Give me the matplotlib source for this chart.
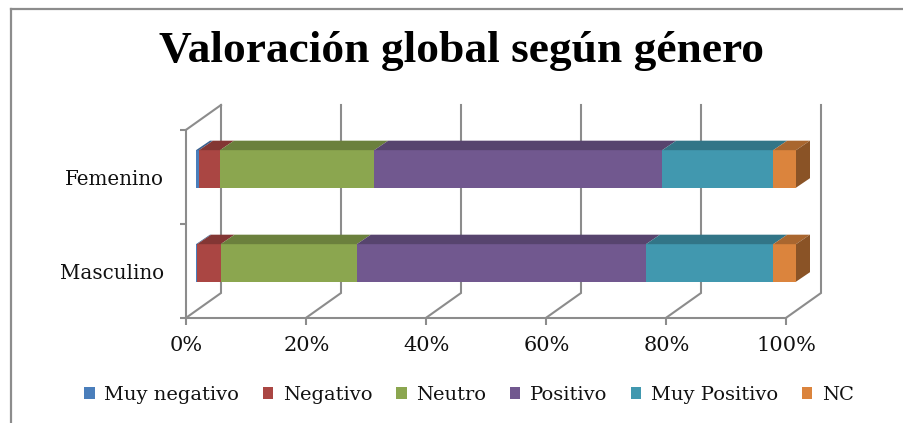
import matplotlib
matplotlib.use("Agg")
import matplotlib.pyplot as plt
from matplotlib.lines import Line2D
from matplotlib.patches import Polygon

categories = ["Masculino", "Femenino"]
series = ["Muy negativo", "Negativo", "Neutro", "Positivo", "Muy Positivo", "NC"]
muy_negativo = [0.2, 0.5]
negativo = [3.9, 3.5]
neutro = [22.7, 25.7]
positivo = [48.2, 48.0]
muy_positivo = [21.2, 18.5]
nc = [3.8, 3.8]
x_ticks = [0, 20, 40, 60, 80, 100]

values = [muy_negativo, negativo, neutro, positivo, muy_positivo, nc]
colors = ["#4A7EBB", "#AA4643", "#8BA64F", "#71588F", "#4198AF", "#DB843D"]

W, H = 904, 423
FONT = "DejaVu Serif"
GRID = "#8C8C8C"

# plot area in pixels of the picture
PX_LEFT, PX_RIGHT, PX_TOP, PX_BOTTOM = 186.5, 786.5, 129.5, 317.5
px_x = (PX_RIGHT - PX_LEFT) / 100
px_y = (PX_BOTTOM - PX_TOP) / 2

# fake 3d offsets, in data units
WALL_DX = 34.5 / px_x
WALL_DY = 24.5 / px_y
BAR_DX = 9.5 / px_x
BAR_DY = 7.0 / px_y
DEPTH_DX = 14.0 / px_x
DEPTH_DY = 9.5 / px_y
BAR_H = 37.5 / px_y


def shade(color, factor):
    r, g, b = matplotlib.colors.to_rgb(color)
    return (r * factor, g * factor, b * factor)


fig = plt.figure(figsize=(W / 100, H / 100), dpi=100)
ax = fig.add_axes([PX_LEFT / W, 1 - PX_BOTTOM / H,
                   (PX_RIGHT - PX_LEFT) / W, (PX_BOTTOM - PX_TOP) / H])
ax.set_xlim(0, 100)
ax.set_ylim(0, 2)
ax.patch.set_visible(False)

# back wall and floor lines
top = 2 + WALL_DY
for x in x_ticks:
    ax.plot([x, x + WALL_DX, x + WALL_DX], [0, WALL_DY, top], color=GRID,
            lw=1.5, clip_on=False, zorder=1, solid_joinstyle="miter")
ax.plot([0, WALL_DX], [2, top], color=GRID, lw=1.5, clip_on=False, zorder=1)

# stacked bars with top and side faces
for i, cat in enumerate(categories):
    y0 = i + 0.5 - BAR_DY - BAR_H / 2 + 0.155
    left = BAR_DX
    for vals, color, name in zip(values, colors, series):
        v = vals[i]
        ax.barh(y0, v, height=BAR_H, left=left, align="edge", color=color,
                edgecolor="none", zorder=3, clip_on=False,
                label=name if i == 0 else None)
        ax.add_patch(Polygon(
            [(left, y0 + BAR_H), (left + v, y0 + BAR_H),
             (left + v + DEPTH_DX, y0 + BAR_H + DEPTH_DY),
             (left + DEPTH_DX, y0 + BAR_H + DEPTH_DY)],
            facecolor=shade(color, 0.77), edgecolor="none", zorder=3, clip_on=False))
        left += v
    ax.add_patch(Polygon(
        [(left, y0), (left + DEPTH_DX, y0 + DEPTH_DY),
         (left + DEPTH_DX, y0 + BAR_H + DEPTH_DY), (left, y0 + BAR_H)],
        facecolor=shade(colors[-1], 0.63), edgecolor="none", zorder=3, clip_on=False))

for side in ["top", "right"]:
    ax.spines[side].set_visible(False)
for side in ["left", "bottom"]:
    ax.spines[side].set_color(GRID)
    ax.spines[side].set_linewidth(1.5)

ax.set_xticks(x_ticks)
ax.set_xticklabels([f"{x}%" for x in x_ticks], fontfamily=FONT, fontsize=15, color="#111111")
ax.tick_params(axis="x", length=5, width=1.5, color=GRID, pad=8)
ax.set_yticks([0, 1, 2])
ax.set_yticklabels([])
ax.tick_params(axis="y", which="major", length=4, width=1.5, color=GRID)
ax.set_yticks([0.49, 1.49], minor=True)
ax.set_yticklabels(categories, minor=True, fontfamily=FONT, fontsize=14.3, color="#111111")
ax.tick_params(axis="y", which="minor", length=0, pad=16)

fig.text(462 / W, 1 - 51 / H, "Valoración global según género", ha="center", va="center",
         fontfamily="Liberation Serif", fontweight="bold", fontsize=32.7, color="black")

handles, labels = ax.get_legend_handles_labels()
fig.legend(handles, labels, ncols=6, loc="center", bbox_to_anchor=(469 / W, 1 - 395 / H),
           frameon=False, prop={"family": FONT, "size": 14}, handlelength=0.55,
           handleheight=0.55, handletextpad=0.5, columnspacing=1.2, labelcolor="#111111")

# chart border, only top and left fall inside the picture
fig.add_artist(Line2D([11 / W, 1], [1 - 9 / H, 1 - 9 / H], color=GRID, lw=1.6))
fig.add_artist(Line2D([11 / W, 11 / W], [0, 1 - 9 / H], color=GRID, lw=1.6))

fig.savefig("out.png", dpi=100)
